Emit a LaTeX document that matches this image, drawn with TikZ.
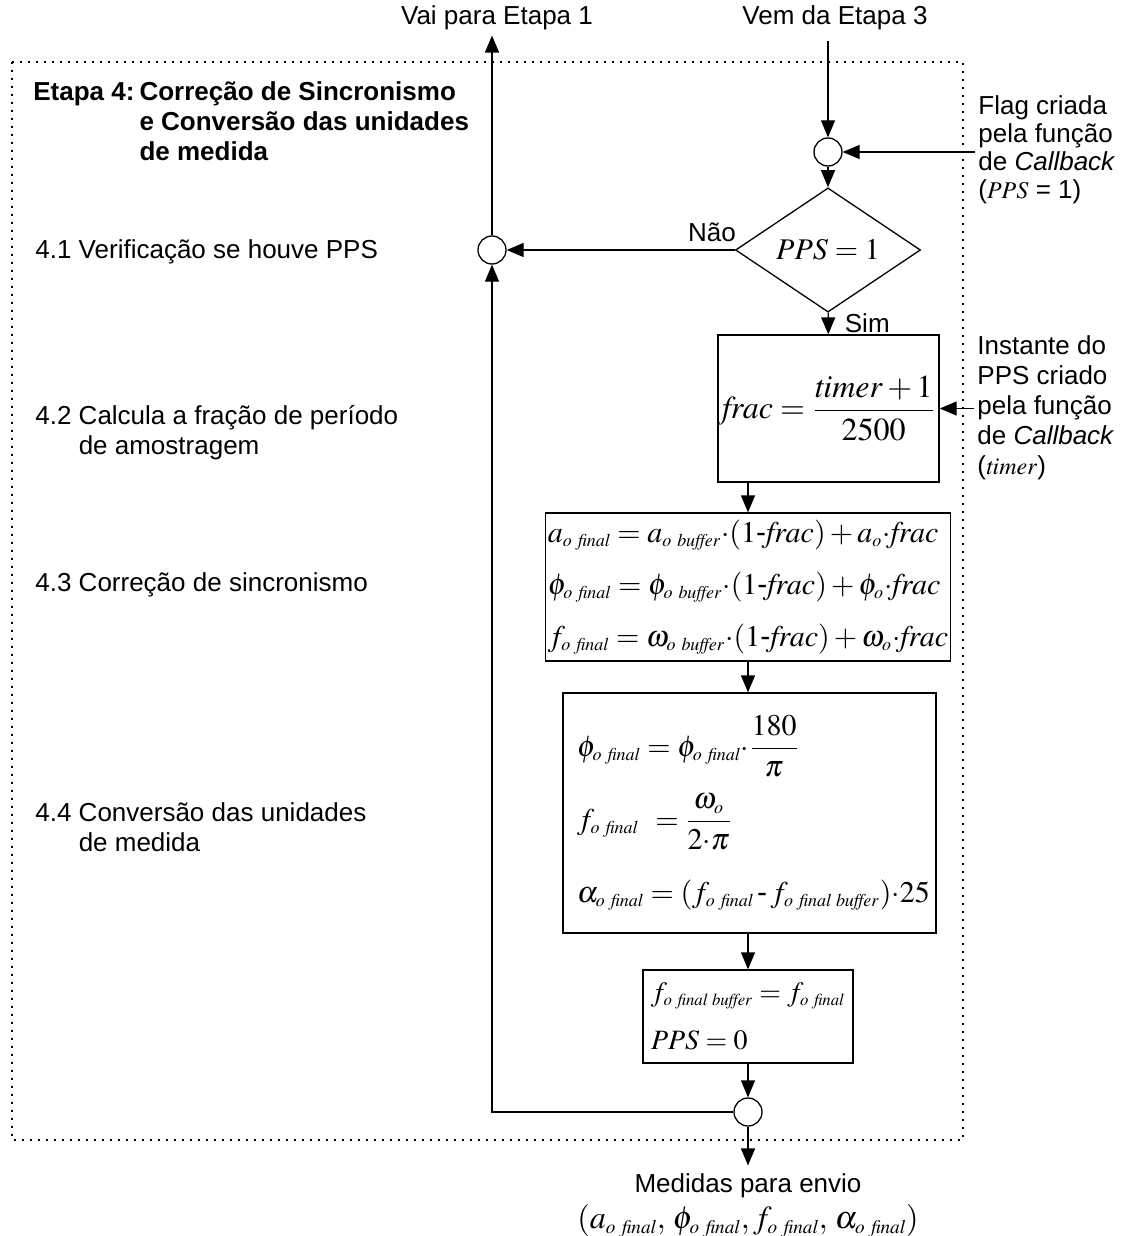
\documentclass[tikz,border=0pt]{standalone}
\usepackage{mathptmx}
\usepackage{amsmath}
\usepackage[no-math]{fontspec}
\setmainfont{Liberation Sans}
\usetikzlibrary{positioning,shapes.geometric,arrows.meta}
\newcommand{\rotfont}{\fontsize{13}{15}\selectfont}
\newcommand{\osub}[1]{_{\scriptscriptstyle\mathit{o}\mkern6mu\mathit{#1}}}
\newcommand{\isub}{_{\scriptscriptstyle\mathit{o}}}
\newcommand{\esp}{\mkern5mu}
\tikzset{bloco/.style={rectangle, draw=black, line width=0.65pt, inner sep=2pt, font=\fontsize{15}{26}\selectfont},
juncao/.style={circle, draw=black, line width=0.65pt, minimum size=14pt, inner sep=0pt},
decisao/.style={diamond, draw=black, line width=0.65pt, minimum width=92.5pt, minimum height=51pt, inner sep=0pt, font=\fontsize{15}{18}\selectfont},
rotulo/.style={inner sep=0pt, font=\rotfont},
arrow/.style={line width=0.65pt,-{Triangle[length=8.5pt,width=7pt]}}}

\begin{document}
\begin{tikzpicture}[x=0.5pt, y=-0.5pt]
\useasboundingbox (0,0) rectangle (1127,1236);
% moldura da etapa 4
\draw [line width=0.9pt, dash pattern=on 0.9pt off 3.1pt] (12,62) rectangle (963,1140);

% textos da coluna esquerda
\node (h4) [rotulo, font=\rotfont\bfseries, anchor=west] at (33,125) {\begin{tabular}{@{}l@{\hspace{2.5pt}}l@{}}
Etapa 4: & Correção de Sincronismo\\
 & e Conversão das unidades\\
 & de medida
\end{tabular}};
\node (p41) [rotulo, anchor=west] at (35,252) {4.1 Verificação se houve PPS};
\node (p42) [rotulo, anchor=west] at (35,433) {\begin{tabular}{@{}l@{ }l@{}}
4.2 & Calcula a fração de período\\
 & de amostragem
\end{tabular}};
\node (p43) [rotulo, anchor=west] at (35,585) {4.3 Correção de sincronismo};
\node (p44) [rotulo, anchor=west] at (35,830) {\begin{tabular}{@{}l@{ }l@{}}
4.4 & Conversão das unidades\\
 & de medida
\end{tabular}};

% fluxo
\node (vai) [rotulo] at (497,18) {Vai para Etapa 1};
\node (vem) [rotulo] at (835,18) {Vem da Etapa 3};
\node (c1) [juncao] at (828,152) {};
\node (flag) [rotulo, font=\fontsize{13}{14}\selectfont, anchor=west, align=left] at (978,150) {Flag criada\\pela função\\de \textit{Callback}\\({\large$PPS$} = 1)};
\node (dec) [decisao] at (828,250) {$PPS = 1$};
\node (c2) [juncao] at (492,250) {};
\node (b1) [bloco, font=\fontsize{16}{26}\selectfont, minimum width=105.5pt, minimum height=73.5pt] at (828.5,408.5) {$\mathit{frac} = \dfrac{\mathit{timer} + 1}{2500}$};
\node (inst) [rotulo, anchor=west, align=left] at (977,408) {Instante do\\PPS criado\\pela função\\de \textit{Callback}\\({\large$\mathit{timer}$})};
\node (b2) [bloco, inner xsep=1pt, minimum width=200pt, minimum height=74pt, align=left] at (748,587) {%
$a\osub{final} = a\osub{buffer}{\cdot}(1\text{-}\mathit{frac}) + a\isub{\cdot}\mathit{frac}$\\
$\phi\osub{final} = \phi\osub{buffer}{\cdot}(1\text{-}\mathit{frac}) + \phi\isub{\cdot}\mathit{frac}$\\
$f\osub{final} = \omega\osub{buffer}{\cdot}(1\text{-}\mathit{frac}) + \omega\isub{\cdot}\mathit{frac}$};
\node (b3) [bloco, font=\fontsize{15}{36.5}\selectfont, minimum width=186.5pt, minimum height=120pt, inner xsep=7pt, text width=172.5pt, align=left] at (749.5,813) {%
\mbox{$\phi\osub{final} = \phi\osub{final}{\cdot}\dfrac{180}{\pi}$}\\
\mbox{$f\osub{final}\;\, = \dfrac{\omega\isub}{2{\cdot}\pi}$}\\
\mbox{$\alpha\osub{final} = (f\osub{final}\,\text{-}\,f\osub{final\esp buffer}){\cdot}25$}};
\node (b4) [bloco, font=\fontsize{14}{24}\selectfont, minimum width=105pt, minimum height=46.5pt, inner xsep=4pt, text width=97pt, align=left] at (748,1016.5) {%
\mbox{$f\osub{final\esp buffer} = f\osub{final}$}\\
\mbox{$PPS = 0$}};
\node (c3) [juncao] at (748,1112) {};
\node (env) [rotulo] at (748,1186) {Medidas para envio};
\node (envv) [font=\fontsize{16}{18}\selectfont, inner sep=0pt] at (748,1221) {$(a\osub{final},\,\phi\osub{final},f\osub{final},\,\alpha\osub{final})$};

\draw [arrow] ([yshift=-5pt]vem.south -| c1) -- (c1);
\draw [arrow] ([xshift=-1.5pt]flag.west |- c1) -- (c1);
\draw [arrow] (c1) -- (dec);
\draw [arrow] (dec.west) -- node[rotulo, pos=0.1, above=4pt] {Não} (c2);
\draw [arrow] (dec) -- node[rotulo, right=8pt] {Sim} (b1);
\draw [arrow] ([xshift=-1.5pt]inst.west |- b1) -- (b1);
\draw [arrow] (b1.south -| b2.north) -- (b2);
\draw [arrow] (b2.south) -- (b2.south |- b3.north);
\draw [arrow] (b3.south -| b4.north) -- (b4);
\draw [arrow] (b4) -- (c3);
\draw [arrow, shorten >=4pt] (c3) -- (env);
\draw [arrow] (c3) -- (c2 |- c3) -- (c2);
\draw [arrow, shorten >=2.5pt] (c2) -- (c2 |- vai.south);
\end{tikzpicture}
\end{document}
